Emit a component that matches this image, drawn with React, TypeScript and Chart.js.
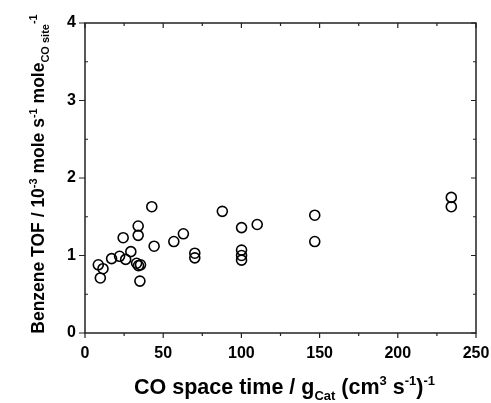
import React, { useEffect, useRef } from "react";
import { Chart, registerables } from "chart.js";

Chart.register(...registerables);

const xValues = [8.5, 11.5, 9.8, 17.0, 22.1, 24.4, 26.0, 29.3, 34.0, 34.0, 33.0, 34.2, 35.5, 35.1, 42.7, 44.2, 56.8, 62.9, 70.2, 70.2, 87.8, 100.1, 110.1, 100.1, 100.1, 100.1, 146.9, 146.9, 234.2, 234.2];
const yValues = [0.88, 0.83, 0.71, 0.96, 0.99, 1.23, 0.95, 1.05, 1.38, 1.26, 0.90, 0.87, 0.88, 0.67, 1.63, 1.12, 1.18, 1.28, 1.03, 0.97, 1.57, 1.36, 1.40, 1.07, 1.00, 0.94, 1.52, 1.18, 1.75, 1.63];

const xMin = 0, xMax = 250, xMajor = 50, xMinor = 25;
const yMin = 0, yMax = 4, yMajor = 1, yMinor = 0.5;

type Seg = { t: string; k: "n" | "sup" | "sub" };
const xTitle: Seg[] = [
  { t: "CO space time / g", k: "n" },
  { t: "Cat", k: "sub" },
  { t: " (cm", k: "n" },
  { t: "3", k: "sup" },
  { t: " s", k: "n" },
  { t: "-1", k: "sup" },
  { t: ")", k: "n" },
  { t: "-1", k: "sup" },
];
const yTitle: Seg[] = [
  { t: "Benzene TOF / 10", k: "n" },
  { t: "-3", k: "sup" },
  { t: " mole s", k: "n" },
  { t: "-1", k: "sup" },
  { t: " mole", k: "n" },
  { t: "CO site", k: "sub" },
  { t: "-1", k: "sup" },
];

const FAMILY = "Arial, 'Liberation Sans', sans-serif";

function drawRich(ctx: CanvasRenderingContext2D, segs: Seg[], size: number, cx: number, baseY: number) {
  const big = `bold ${size}px ${FAMILY}`;
  const small = `bold ${Math.round(size * 0.62)}px ${FAMILY}`;
  let total = 0;
  const widths = segs.map((s) => {
    ctx.font = s.k === "n" ? big : small;
    const w = ctx.measureText(s.t).width;
    total += w;
    return w;
  });
  let x = cx - total / 2;
  ctx.textBaseline = "alphabetic";
  ctx.textAlign = "left";
  ctx.fillStyle = "#000";
  segs.forEach((s, i) => {
    ctx.font = s.k === "n" ? big : small;
    const dy = s.k === "sup" ? -size * 0.42 : s.k === "sub" ? size * 0.28 : 0;
    ctx.fillText(s.t, x, baseY + dy);
    x += widths[i];
  });
}

const framePlugin = {
  id: "frame",
  afterDraw(chart: any) {
    const { ctx, chartArea: a, scales } = chart;
    const xs = scales.x, ys = scales.y;
    ctx.save();
    ctx.strokeStyle = "#222";
    ctx.lineWidth = 1.5;
    ctx.strokeRect(a.left, a.top, a.right - a.left, a.bottom - a.top);
    ctx.lineWidth = 1.2;
    ctx.beginPath();
    for (let v = xMin; v <= xMax + 1e-9; v += xMinor) {
      const px = xs.getPixelForValue(v);
      const major = Math.abs(v / xMajor - Math.round(v / xMajor)) < 1e-6;
      ctx.moveTo(px, a.bottom);
      ctx.lineTo(px, a.bottom + (major ? 5 : 3));
      ctx.moveTo(px, a.top);
      ctx.lineTo(px, a.top + (major ? 5 : 3));
    }
    for (let v = yMin; v <= yMax + 1e-9; v += yMinor) {
      const py = ys.getPixelForValue(v);
      const major = Math.abs(v / yMajor - Math.round(v / yMajor)) < 1e-6;
      if (major) {
        ctx.moveTo(a.left - 6, py);
        ctx.lineTo(a.left, py);
      } else {
        ctx.moveTo(a.left, py);
        ctx.lineTo(a.left + 3, py);
      }
      ctx.moveTo(a.right, py);
      ctx.lineTo(a.right - (major ? 5 : 3), py);
    }
    ctx.stroke();

    drawRich(ctx, xTitle, 21.5, (a.left + a.right) / 2 + 4, 394);
    ctx.translate(44, (a.top + a.bottom) / 2 - 4);
    ctx.rotate(-Math.PI / 2);
    drawRich(ctx, yTitle, 17.5, 0, 0);
    ctx.restore();
  },
};

export default function App() {
  const ref = useRef<HTMLCanvasElement | null>(null);
  useEffect(() => {
    if (!ref.current) return;
    const data = xValues.map((x, i) => ({ x, y: yValues[i] }));
    const chart = new Chart(ref.current, {
      type: "scatter",
      data: {
        datasets: [
          {
            data,
            pointStyle: "circle",
            pointRadius: 5,
            pointBorderWidth: 1.6,
            pointBorderColor: "#000",
            pointBackgroundColor: "rgba(0,0,0,0)",
          },
        ],
      },
      options: {
        animation: false,
        responsive: false,
        devicePixelRatio: 1,
        layout: { padding: { top: 23, right: 15, left: 0, bottom: 0 } },
        plugins: { legend: { display: false }, tooltip: { enabled: false } },
        scales: {
          x: {
            type: "linear",
            min: xMin,
            max: xMax,
            grid: { display: false, drawTicks: false },
            border: { display: false },
            ticks: {
              stepSize: xMajor,
              padding: 11,
              color: "#000",
              font: { family: FAMILY, size: 16, weight: "bold" },
            },
            afterFit: (s: any) => {
              s.height = 70;
              s.paddingLeft = 0;
              s.paddingRight = 0;
            },
          },
          y: {
            type: "linear",
            min: yMin,
            max: yMax,
            grid: { display: false, drawTicks: false },
            border: { display: false },
            ticks: {
              stepSize: yMajor,
              padding: 9,
              color: "#000",
              font: { family: FAMILY, size: 16, weight: "bold" },
            },
            afterFit: (s: any) => {
              s.width = 85;
              s.paddingTop = 0;
              s.paddingBottom = 0;
            },
          },
        },
      },
      plugins: [framePlugin],
    });
    return () => chart.destroy();
  }, []);
  return (
    <div style={{ position: "absolute", left: 0, top: 0, width: 491, height: 403, background: "#fff" }}>
      <canvas ref={ref} width={491} height={403} />
    </div>
  );
}
